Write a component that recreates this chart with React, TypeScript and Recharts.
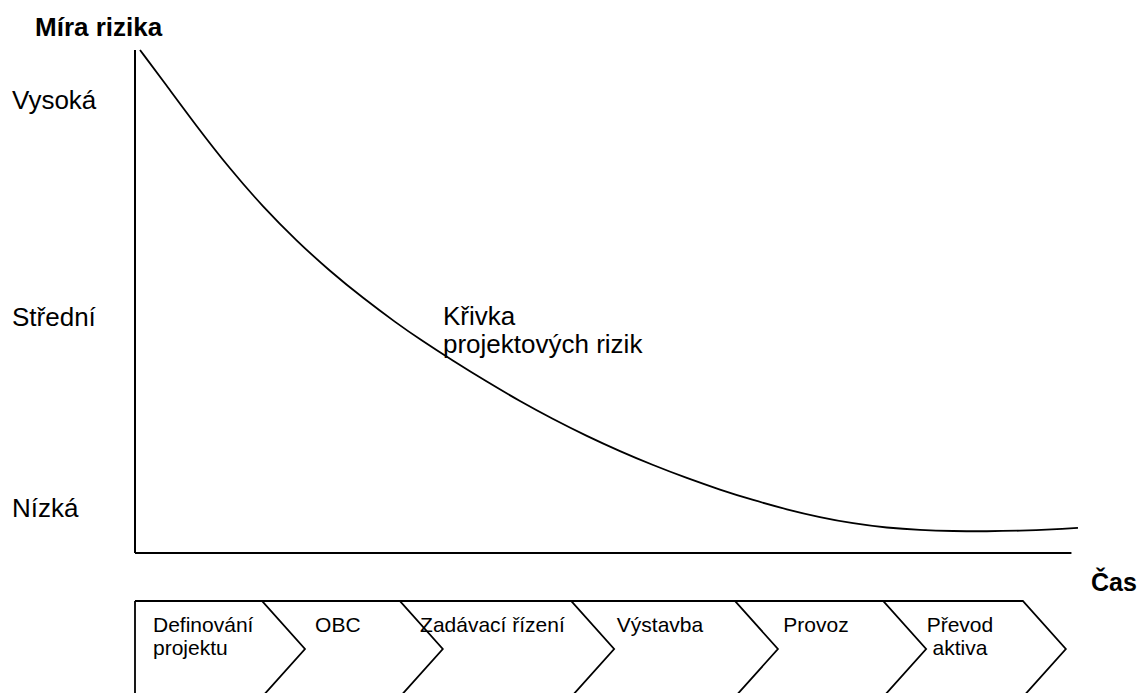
import React from 'react';
import { LineChart, Line, XAxis, YAxis, ReferenceLine, BarChart, Bar } from 'recharts';

// risk curve (time 0..100, risk 0..100)
const timeValues = [0.53, 2.97, 6.57, 10.06, 13.56, 17.16, 20.66, 24.15, 27.75, 30.19, 33.69, 37.29, 40.78, 44.28, 47.88, 51.38, 54.87, 58.47, 61.97, 65.47, 69.07, 72.56, 76.06, 79.66, 83.16, 86.65, 90.25, 93.75, 97.25, 99.89];
const riskValues = [100, 93.9, 84.72, 76.34, 68.81, 61.97, 56.02, 50.68, 45.64, 42.47, 38.2, 34.02, 30.18, 26.61, 23.23, 20.22, 17.46, 14.87, 12.58, 10.51, 8.64, 7.1, 5.87, 5.0, 4.55, 4.35, 4.3, 4.42, 4.68, 5.0];

const riskTicks = [9, 47, 90];
const riskLabels = ['Nízká', 'Střední', 'Vysoká'];

const phaseNames = ['Definování\nprojektu', 'OBC', 'Zadávací řízení', 'Výstavba', 'Provoz', 'Převod\naktiva'];
const phaseEnds = [13.45, 28.05, 46.2, 63.55, 79.25, 94.05];

const curveData = timeValues.map((t, i) => ({ t, risk: riskValues[i] }));
const phaseRow: Record<string, any> = { row: 'phases' };
phaseEnds.forEach((end, i) => {
  phaseRow[`p${i}`] = end - (i === 0 ? 0 : phaseEnds[i - 1]);
});

const FONT = '"Liberation Sans", Arial, sans-serif';
const W = 1139;
const CHEVRON_DEPTH = 43;
const CHEVRON_H = 96;

const RiskTick = ({ y, index }: any) => (
  <text x={12} y={y} dy={9} fontSize={26} fontFamily={FONT} fill="#000" textAnchor="start">
    {riskLabels[index]}
  </text>
);

const Chevron = ({ x, y, width, phase }: any) => {
  const right = x + width;
  let d = `M${x},${y} L${right},${y} L${right + CHEVRON_DEPTH},${y + CHEVRON_H / 2} L${right},${y + CHEVRON_H}`;
  if (phase === 0) d += ` M${x},${y} L${x},${y + CHEVRON_H}`;
  const lines = phaseNames[phase].split('\n');
  // first box is left aligned, the others centred
  const anchor = phase === 0 ? 'start' : 'middle';
  const tx = phase === 0 ? x + 18 : x + width / 2 + 7;
  return (
    <g>
      <path d={d} fill="none" stroke="#000" strokeWidth={1.8} />
      <text x={tx} y={y + 31} fontSize={21} fontFamily={FONT} fill="#000" textAnchor={anchor}>
        {lines.map((ln, i) => (
          <tspan key={i} x={tx} dy={i === 0 ? 0 : 23}>{ln}</tspan>
        ))}
      </text>
    </g>
  );
};

export default function App() {
  return (
    <div style={{ position: 'absolute', left: 0, top: 0, width: W, height: 693, overflow: 'hidden', background: '#fff' }}>
      <div style={{ position: 'absolute', left: 0, top: 0 }}>
        <LineChart width={W} height={600} data={curveData} margin={{ top: 50, right: 60, bottom: 47, left: 0 }}>
          <XAxis dataKey="t" type="number" domain={[0, 100]} hide />
          <YAxis
            type="number"
            domain={[0, 100]}
            width={135}
            ticks={riskTicks}
            interval={0}
            tickLine={false}
            axisLine={{ stroke: '#000', strokeWidth: 2 }}
            tick={<RiskTick />}
          />
          <ReferenceLine
            segment={[{ x: 0, y: 0 }, { x: 99.2, y: 0 }]}
            stroke="#000"
            strokeWidth={2}
            ifOverflow="visible"
          />
          <Line
            dataKey="risk"
            type="basis"
            stroke="#000"
            strokeWidth={1.8}
            dot={false}
            activeDot={false}
            isAnimationActive={false}
          />
        </LineChart>
      </div>
      <div style={{ position: 'absolute', left: 0, top: 593 }}>
        <BarChart
          width={W}
          height={100}
          layout="vertical"
          data={[phaseRow]}
          margin={{ top: 8, right: 60, bottom: 0, left: 135 }}
          barCategoryGap={0}
        >
          <XAxis type="number" domain={[0, 100]} hide />
          <YAxis type="category" dataKey="row" hide />
          {phaseNames.map((_, i) => (
            <Bar
              key={i}
              dataKey={`p${i}`}
              stackId="phases"
              isAnimationActive={false}
              shape={(props: any) => <Chevron {...props} phase={i} />}
            />
          ))}
        </BarChart>
      </div>
      <svg width={W} height={693} style={{ position: 'absolute', left: 0, top: 0, pointerEvents: 'none' }}>
        <text x={35} y={36} fontSize={26} fontWeight="bold" fontFamily={FONT} fill="#000">Míra rizika</text>
        <text x={1091} y={591} fontSize={25} fontWeight="bold" fontFamily={FONT} fill="#000">Čas</text>
        <text fontSize={26} fontFamily={FONT} fill="#000">
          <tspan x={443} y={325}>Křivka</tspan>
          <tspan x={443} y={353}>projektových rizik</tspan>
        </text>
      </svg>
    </div>
  );
}
